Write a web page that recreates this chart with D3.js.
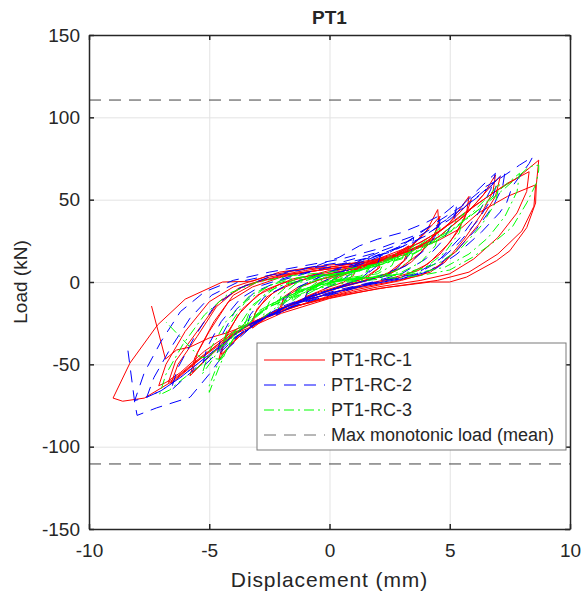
<!DOCTYPE html>
<html>
<head>
<meta charset="utf-8">
<script src="https://cdn.jsdelivr.net/npm/d3@7"></script>
<style>
  body { margin: 0; background: #fff; }
  text { font-family: "Liberation Sans", Arial, Helvetica, sans-serif; fill: #262626; }
</style>
</head>
<body>
<div id="chart"></div>
<script>
var width = 581, height = 598
var margin = {top: 35, right: 11, bottom: 69, left: 89}

// tick values
var xTicks = [-10, -5, 0, 5, 10]
var yTicks = [-150, -100, -50, 0, 50, 100, 150]

// mean of the monotonic tests, drawn at +/- value
var maxMonotonic = 110.5

// PT1-RC-1 (displacement mm, load kN)
var rc1 = [
  [0,0],[0.4,3],[0.9,6],[1.1,8],[1.0,4],[0.6,0],[0,-3],[-0.5,-6],[-1.0,-9],[-0.9,-5],[-0.5,-1],[0,2],
  [0.6,5],[1.3,9],[2.0,13],[2.1,9],[1.6,3],[0.8,-1],[0,-5],[-1,-10],[-2,-16],[-1.9,-9],[-1.3,-3],[-0.5,1],[0,3],
  [0.8,6],[1.5,10],[2.1,14],[2.0,8],[1.4,2],[0.5,-2],[-0.6,-7],[-1.4,-12],[-2.1,-17],[-1.9,-10],[-1.2,-3],[-0.3,2],
  [0.5,5],[1.5,9],[2.5,15],[3.3,22],[3.2,14],[2.6,6],[1.6,1],[0.3,-4],[-1,-10],[-2.2,-17],[-3.2,-28],[-3.1,-19],[-2.6,-9],[-1.8,-2],[-0.8,3],[0,5],
  [1,8],[2,12],[2.8,17],[3.3,21],[3.1,13],[2.4,5],[1.2,0],[0,-5],[-1.2,-11],[-2.4,-19],[-3.3,-27],[-3.0,-16],[-2.3,-6],[-1.2,1],[0,5],
  [1,8],[2.2,12],[3.3,20],[4.0,30],[4.5,44],[4.55,35],[4.2,24],[3.4,12],[2.4,4],[1.2,0],[0,-5],[-1.5,-13],[-3,-24],[-4,-36],[-4.6,-47],[-4.4,-36],[-3.8,-20],[-3,-8],[-2,-1],[-0.8,4],[0,7],
  [1.2,9],[2.4,14],[3.4,22],[4.3,35],[4.6,40],[4.4,30],[3.8,18],[2.9,8],[1.8,2],[0.5,-3],[-1,-10],[-2.5,-20],[-3.6,-31],[-4.5,-44],[-4.3,-32],[-3.6,-16],[-2.7,-5],[-1.5,2],[0,6],
  [1,9],[2.5,14],[4,24],[5,36],[5.8,52],[5.7,42],[5.3,30],[4.6,17],[3.7,7],[2.5,2],[1,-3],[-1,-11],[-2.5,-19],[-4,-32],[-5.2,-48],[-5.8,-57],[-5.6,-46],[-5,-30],[-4.2,-12],[-3.2,-3],[-2,3],[-0.5,7],
  [1,10],[2.6,15],[3.8,22],[4.8,33],[5.6,45],[5.9,50],[5.6,38],[5,24],[4.1,11],[3,3],[1.5,-2],[0,-7],[-1.8,-15],[-3.5,-27],[-4.8,-42],[-5.7,-55],[-5.5,-43],[-4.8,-24],[-4,-8],[-3,0],[-1.5,5],[0,8],
  [1.5,11],[3,17],[4.5,27],[5.6,40],[6.4,53],[6.9,65],[6.8,55],[6.3,41],[5.6,26],[4.8,12],[3.8,4],[2.5,0],[1,-4],[-0.8,-12],[-2.5,-20],[-4,-31],[-5.3,-45],[-6.3,-57],[-6.7,-61],[-6.4,-48],[-5.5,-30],[-4.6,-12],[-3.5,-2],[-2,4],[0,8],
  [1.5,10],[3.2,17],[4.6,28],[5.8,43],[6.7,58],[7.1,64],[6.9,52],[6.2,35],[5.3,19],[4.2,6],[3,1],[1,-5],[-1.2,-14],[-3,-23],[-4.5,-36],[-5.8,-52],[-6.6,-62],[-6.3,-50],[-5.5,-33],[-4.7,-15],[-3.8,-4],[-2.5,3],[-1,7],[0,9],
  [2,14],[3.8,24],[5.2,37],[6.4,50],[7.4,60],[8.3,67],[8.2,55],[7.8,42],[7,27],[6,14],[5,5],[3.8,1],[2,-3],[0,-9],[-2,-17],[-3.8,-28],[-5.2,-42],[-6.2,-55],[-6.8,-61],[-7.1,-63],[-6.8,-50],[-6,-30],[-5,-12],[-4,-3],[-2.5,4],[-1,8],[0,9],
  [1.5,12],[3,18],[4.5,30],[5.8,44],[7,56],[7.8,63],[8.7,74],[8.6,59],[8.57,48],[8.2,33],[7.5,19],[6.95,13],[5.7,3],[5,0],[4.2,0],[2,-4],[0,-10],[-2,-19],[-4,-32],[-5.5,-48],[-6.5,-60],[-7.7,-70.5],[-8.6,-72.4],[-9,-70.5],[-8.3,-49.3],[-7.15,-26.1],[-6,-10.4],[-4.45,0],[-3.2,0.5],[-2.08,6],[-0.7,9],[0,10.3],
  [1.5,12],[3,17],[4.5,25],[5.5,33],[6.2,42],[7.4,52],[8.57,59],[8.5,46],[8.0,31],[7,17],[5.8,6],[4.5,1],[2.5,-3],[0.5,-8],[-1.5,-15],[-3,-24],[-4.3,-31],[-5,-34],[-5.8,-39.5],[-6.36,-41.3],[-6.82,-46.8],[-7.4,-14.6]
]

// PT1-RC-2
var rc2 = [
  [0,0],[0.5,5],[1,9],[1.1,10],[0.9,5],[0.4,0],[-0.2,-4],[-0.7,-8],[-1.1,-12],[-0.9,-6],[-0.4,-1],[0.1,3],
  [0.6,7],[1.3,12],[2.1,17],[2.0,10],[1.4,3],[0.6,-2],[-0.4,-7],[-1.2,-12],[-2.1,-19],[-1.8,-10],[-1.1,-2],[-0.3,4],[0.3,8],
  [1,11],[1.75,16],[2.2,19],[2.0,11],[1.3,2],[0.2,-4],[-1,-10],[-2.2,-20],[-2.0,-11],[-1.3,-3],[-0.4,3],[0.2,6],
  [0.5,6],[1.5,12],[2.5,18],[3.5,27],[3.4,18],[2.8,8],[1.8,2],[0.5,-3],[-1,-10],[-2.3,-18],[-3.5,-30],[-3.3,-20],[-2.7,-9],[-1.8,-2],[-0.6,4],[0.2,7],
  [1,10],[2,16],[3,22],[4,32],[4.6,38],[4.5,30],[4,20],[3.2,10],[2.2,3],[1,-1],[-0.5,-7],[-2,-15],[-3.2,-25],[-4.2,-38],[-4.7,-45],[-4.5,-33],[-3.9,-17],[-3.1,-6],[-2,1],[-0.8,6],
  [-0.5,10],[0.4,15],[1.25,22],[2,26],[3,30],[4,36],[4.8,42],[5.3,48],[5.2,38],[4.7,25],[4,14],[3,5],[1.8,0],[0.3,-5],[-1.5,-13],[-3,-24],[-4.3,-38],[-5.3,-52],[-5.1,-40],[-4.5,-24],[-3.7,-10],[-2.8,-2],[-1.5,4],
  [-0.3,8],[1,12],[2.5,18],[4,28],[5.2,42],[6.1,55],[6.6,62],[6.9,66],[6.7,56],[6.2,42],[5.5,28],[4.6,14],[3.6,5],[2.2,1],[0.8,-4],[-1,-12],[-2.7,-22],[-4.2,-36],[-5.4,-50],[-6.3,-62],[-6.6,-66],[-6.3,-52],[-5.6,-33],[-4.8,-15],[-3.8,-4],[-2.5,3],[-1,8],
  [0.5,11],[2,16],[3.5,24],[5,38],[6,50],[6.8,60],[7.3,67],[7.2,58],[6.8,46],[6.1,32],[5.2,18],[4.2,7],[3,2],[1.5,-2],[0,-8],[-1.8,-16],[-3.5,-27],[-5,-44],[-6.2,-58],[-7.0,-66],[-7.6,-70],[-7.3,-58],[-6.6,-40],[-5.8,-22],[-4.9,-8],[-3.8,0],[-2.2,5],[-0.8,9],
  [0.5,12],[2,18],[3.5,26],[5,39],[6.2,52],[7,62],[7.9,71],[8.45,76],[8.3,72],[7.6,58],[7.36,48],[7.07,42],[6.3,30],[5.3,17],[4.3,7],[3,2],[1.5,-2],[0,-7],[-1.8,-15],[-3.5,-27],[-5,-44],[-6.2,-58],[-7,-66],[-7.6,-70],[-8.1,-72],[-7.7,-55],[-7,-36],[-6.2,-18],[-5.2,-6],[-4,1],[-2.5,6],[-1,10],[0.5,14],
  [2,20],[3.5,28],[4.6,37.6],[5.5,46],[6.5,58],[7,62],[6.8,52],[6.2,38],[5.4,24],[4.5,12],[3.5,4],[2,0],[0.5,-5],[-1.5,-13],[-3,-24],[-4.2,-40],[-5,-56],[-5.8,-70],[-7.2,-76.5],[-8.0,-81],[-8.1,-73],[-8.4,-39.5]
]

// PT1-RC-3
var rc3 = [
  [0,0],[0.3,3],[0.6,5],[0.5,2],[0.2,0],[-0.2,-2],[-0.6,-5],[-0.5,-2],[-0.2,0],[0.1,2],
  [0.5,4],[1,7],[0.9,3],[0.5,1],[0,-1],[-0.5,-4],[-1,-8],[-0.9,-4],[-0.5,0],[0,3],
  [0.5,3],[1,5],[1.6,9],[1.5,5],[1,2],[0.3,1],[-0.4,-2],[-1,-6],[-1.6,-12],[-1.4,-6],[-0.9,-1],[-0.2,3],[0.3,5],
  [1,6],[1.7,10],[1.5,4],[0.8,1],[0,0],[-0.8,-4],[-1.5,-10],[-1.3,-4],[-0.7,1],[0,3],[0.8,5],
  [1.5,8],[2.3,13],[2.1,7],[1.5,3],[0.7,2],[-0.3,0],[-1.2,-6],[-2.2,-16],[-2,-8],[-1.4,-1],[-0.5,3],[0.5,5],[1.2,7],
  [2,11],[2.8,17],[2.6,10],[2,5],[1,3],[0,1],[-1,-4],[-2,-13],[-2.8,-22],[-2.5,-12],[-1.8,-3],[-0.8,3],[0.3,5],[1.2,7],
  [2,10],[3,16],[3.6,23],[3.4,14],[2.8,7],[1.8,3],[0.5,1],[-0.8,-3],[-2,-10],[-3,-20],[-3.6,-29],[-3.3,-17],[-2.6,-6],[-1.5,1],[-0.3,4],[1,6],
  [2,10],[3,15],[4,25],[4.6,33],[4.4,22],[3.8,12],[3,6],[1.8,3],[0.5,1],[-1,-4],[-2.5,-14],[-3.6,-27],[-4.5,-40],[-4.2,-27],[-3.5,-12],[-2.5,-2],[-1.2,3],[0.3,5],
  [1.5,8],[3,14],[4,21],[5,33],[5.6,42],[5.4,30],[4.8,18],[4,9],[3,5],[1.5,2],[0,0],[-1.5,-6],[-3,-18],[-4.2,-33],[-5,-50],[-5.3,-56],[-5,-42],[-4.3,-24],[-3.3,-8],[-2,1],[-0.5,4],[1,6],
  [2,10],[3.5,17],[4.8,28],[5.8,40],[6.6,52],[7.07,60],[6.9,48],[6.3,34],[5.5,21],[4.6,12],[3.5,6],[2,3],[0.5,1],[-1,-4],[-2.5,-14],[-3.8,-30],[-4.6,-48],[-5,-63],[-5,-67],[-4.6,-52],[-4,-32],[-3.2,-14],[-2.2,-3],[-1,2],[0.5,5],
  [2,11],[3.5,18],[5,30],[6.2,44],[7,55],[7.9,66],[7.8,55],[7.3,40],[6.6,27],[5.8,17],[4.8,9],[3.5,5],[2,3],[0.5,0],[-1,-5],[-2.8,-17],[-4.2,-33],[-5.3,-50],[-6.2,-60],[-6.65,-65.6],[-7.07,-68.6],[-6.8,-56],[-6.1,-38],[-5.2,-20],[-4.2,-7],[-3,0],[-1.5,4],[0,6],
  [2,11],[3.5,19],[5,31],[6.3,45],[7.3,57],[8.3,70],[8.7,71],[8.7,68],[8.6,60],[8.2,48],[7.6,33.4],[6.95,25.5],[5.95,15],[5,7.3],[3.8,4],[2.3,2],[0.8,0],[-0.8,-5],[-2.5,-15],[-3.8,-30],[-4.5,-47],[-5.4,-45.6],[-5.8,-39.5],[-6.8,-24.3]
]

var seriesNames = ['PT1-RC-1', 'PT1-RC-2', 'PT1-RC-3', 'Max monotonic load (mean)']
var seriesColors = ['#ff0000', '#0000ff', '#00ff00', '#404040']
var seriesDash = ['none', '12,8', '10,4,2,4', '12,8']

var svg = d3.select('#chart')
  .append('svg')
  .attr('width', width)
  .attr('height', height)

var xScale = d3.scaleLinear()
  .domain([-10, 10])
  .range([margin.left, width - margin.right])

var yScale = d3.scaleLinear()
  .domain([-150, 150])
  .range([height - margin.bottom, margin.top])

var plotW = width - margin.left - margin.right
var plotH = height - margin.top - margin.bottom

// plain hyphen for negatives, like the original
var fmt = d => String(d)

// grid
svg.append('g')
  .attr('transform', `translate(0,${height - margin.bottom})`)
  .call(d3.axisBottom(xScale).tickValues(xTicks).tickSize(-plotH).tickFormat(''))
  .call(g => g.select('.domain').remove())
  .selectAll('line').attr('stroke', '#e3e3e3')

svg.append('g')
  .attr('transform', `translate(${margin.left},0)`)
  .call(d3.axisLeft(yScale).tickValues(yTicks).tickSize(-plotW).tickFormat(''))
  .call(g => g.select('.domain').remove())
  .selectAll('line').attr('stroke', '#e3e3e3')

svg.append('clipPath')
  .attr('id', 'clip')
  .append('rect')
  .attr('x', margin.left)
  .attr('y', margin.top)
  .attr('width', plotW)
  .attr('height', plotH)

var plot = svg.append('g').attr('clip-path', 'url(#clip)')

var line = d3.line()
  .x(d => xScale(d[0]))
  .y(d => yScale(d[1]))

;[rc1, rc2, rc3].forEach(function(s, i) {
  plot.append('path')
    .datum(s)
    .attr('d', line)
    .attr('fill', 'none')
    .attr('stroke', seriesColors[i])
    .attr('stroke-width', 1)
    .attr('stroke-dasharray', seriesDash[i])
    .attr('stroke-linejoin', 'round')
})

;[maxMonotonic, -maxMonotonic].forEach(function(v) {
  plot.append('path')
    .datum([[-10, v], [10, v]])
    .attr('d', line)
    .attr('fill', 'none')
    .attr('stroke', seriesColors[3])
    .attr('stroke-width', 1)
    .attr('stroke-dasharray', seriesDash[3])
})

// axes, ticks pointing inward
var axisColor = '#262626'
function styleAxis(g) {
  g.select('.domain').attr('stroke', axisColor).attr('stroke-width', 1.5)
  g.selectAll('.tick line').attr('stroke', axisColor).attr('stroke-width', 1.5)
  g.selectAll('.tick text')
    .attr('fill', axisColor)
    .style('font-size', '19px')
    .style('font-family', '"Liberation Sans", Arial, sans-serif')
}

svg.append('g')
  .attr('transform', `translate(0,${height - margin.bottom})`)
  .call(d3.axisBottom(xScale).tickValues(xTicks).tickFormat(fmt).tickSizeInner(-5).tickSizeOuter(0).tickPadding(15))
  .call(styleAxis)

svg.append('g')
  .attr('transform', `translate(${margin.left},0)`)
  .call(d3.axisLeft(yScale).tickValues(yTicks).tickFormat(fmt).tickSizeInner(-5).tickSizeOuter(0).tickPadding(9))
  .call(styleAxis)

svg.append('g')
  .attr('transform', `translate(0,${margin.top})`)
  .call(d3.axisTop(xScale).tickValues(xTicks).tickSizeInner(-5).tickSizeOuter(0).tickFormat(''))
  .call(styleAxis)

svg.append('g')
  .attr('transform', `translate(${width - margin.right},0)`)
  .call(d3.axisRight(yScale).tickValues(yTicks).tickSizeInner(-5).tickSizeOuter(0).tickFormat(''))
  .call(styleAxis)

// labels
svg.append('text')
  .attr('x', xScale(0))
  .attr('y', 24)
  .attr('text-anchor', 'middle')
  .style('font-size', '19px')
  .style('font-weight', 'bold')
  .text('PT1')

svg.append('text')
  .attr('x', xScale(0))
  .attr('y', 587)
  .attr('text-anchor', 'middle')
  .style('font-size', '21px')
  .style('letter-spacing', '0.9px')
  .text('Displacement (mm)')

svg.append('text')
  .attr('transform', `translate(27,${yScale(0)}) rotate(-90)`)
  .attr('text-anchor', 'middle')
  .style('font-size', '19px')
  .text('Load (kN)')

// legend
var legend = svg.append('g').attr('transform', 'translate(257,343)')
legend.append('rect')
  .attr('width', 309)
  .attr('height', 107)
  .attr('fill', '#fff')
  .attr('stroke', '#7a7a7a')
  .attr('stroke-width', 1)

seriesNames.forEach(function(name, i) {
  var ly = 17 + i * 25
  legend.append('line')
    .attr('x1', 7).attr('x2', 68)
    .attr('y1', ly).attr('y2', ly)
    .attr('stroke', i == 3 ? '#707070' : seriesColors[i])
    .attr('stroke-width', 1)
    .attr('stroke-dasharray', seriesDash[i])
  legend.append('text')
    .attr('x', 74)
    .attr('y', ly + 6)
    .style('font-size', '18px')
    .attr('fill', '#000')
    .text(name)
})
</script>
</body>
</html>
